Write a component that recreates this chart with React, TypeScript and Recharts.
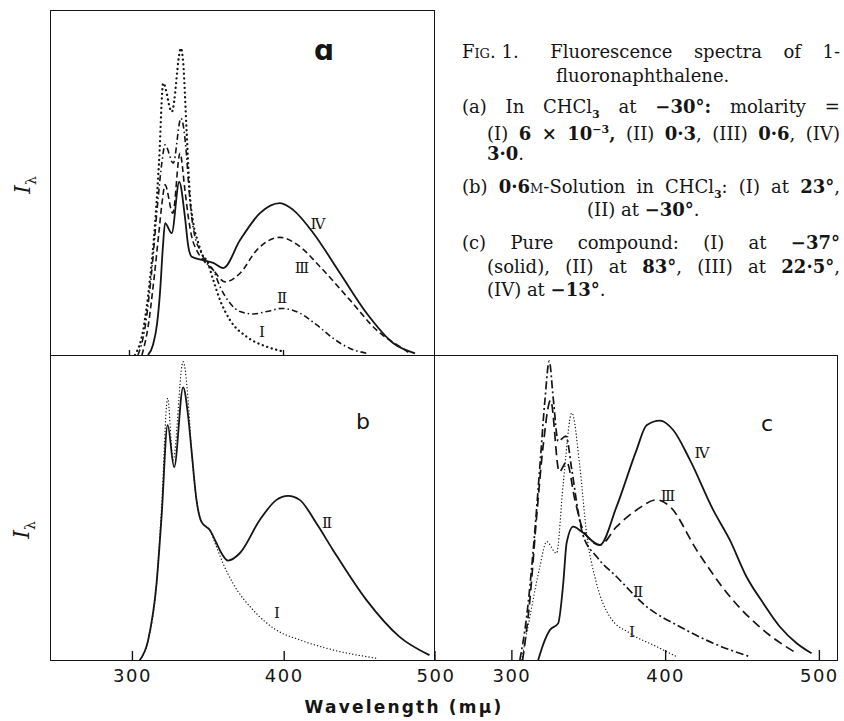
import React from "react";
import { LineChart, Line, XAxis, YAxis } from "recharts";

// (a) in CHCl3 at -30 deg; I..IV = rising molarity. wavelength in m-mu, intensity as % of frame height
const aWaveI = [303.6, 308.8, 313.3, 316.6, 319.2, 321.9, 327.5, 333.4, 334.9, 337.1, 339.3, 341.4, 344.7, 347.9, 350.1, 354.4, 358.8, 365.3, 376.1, 389.1, 399.9];
const aIntI = [0, 7, 22, 38, 56, 78.8, 70.5, 88.9, 84.6, 64.7, 45.9, 38.3, 32.5, 28.5, 27.5, 21.7, 15.9, 10.1, 5.3, 2.4, 1];
const aWaveII = [305.5, 310.1, 314.6, 318.5, 321.1, 323.1, 328.4, 333.4, 337.1, 338.2, 340.4, 342.5, 345.8, 350.1, 354.4, 358.8, 365.3, 371.8, 380.4, 389.1, 398.8, 410.7, 421.6, 432.3, 443.2, 454];
const aIntII = [0, 8, 25, 45, 56, 60.9, 55.6, 68.6, 57.5, 50.7, 40, 34.3, 30.4, 26.7, 24.6, 19.8, 15, 12.6, 11.9, 12.6, 13.5, 12.1, 8.7, 4.8, 1.9, 0.5];
const aWaveIII = [308.1, 312, 315.9, 319.2, 321.1, 323.1, 328.1, 332.8, 336, 338.2, 340.4, 343.6, 347.9, 354.4, 362, 371.8, 382.6, 397.7, 410.7, 423.7, 443.2, 460.5, 475.6, 482.1];
const aIntIII = [0, 8, 22, 36, 44, 49.3, 41.1, 58.5, 47.8, 40, 34.3, 30.4, 27.5, 24.6, 21.2, 23.7, 30.4, 34.1, 31.4, 25.6, 15.9, 7.2, 2.4, 0.5];
const aWaveIV = [312, 315.3, 317.9, 319.8, 321.8, 323.1, 327.4, 332.3, 336, 338.2, 340.4, 347.9, 354.4, 360.9, 371.8, 384.7, 397.7, 406.4, 419.4, 436.7, 454, 471.3, 485.4];
const aIntIV = [0, 3, 9, 18, 32, 38.2, 35.3, 50.2, 40, 31.4, 28.5, 27.5, 26.7, 25.2, 33.3, 41.1, 44, 42, 35.3, 23.7, 12.1, 3.4, 0.5];

// (b) 0.6M in CHCl3: I at 23 deg, II at -30 deg
const bWaveI = [304.9, 310.4, 315.9, 319.2, 323.2, 326.8, 333.4, 336.7, 338.9, 342.2, 345.5, 351, 355.4, 359.7, 366.3, 379.5, 394.9, 410.2, 432.1, 460.7];
const bIntI = [0, 6.6, 25.1, 50, 85.8, 65.6, 97.8, 85.2, 68.9, 52.5, 45.3, 42.6, 37.1, 31.7, 25.1, 16.4, 9.8, 6.6, 3.3, 0.6];
const bWaveII = [304.9, 310.4, 315.9, 319.2, 323.2, 327.5, 333.4, 336.7, 338.9, 342.2, 345.5, 351, 355.4, 358.7, 363, 370.7, 383.9, 394.9, 402.5, 410.2, 421.2, 432.1, 454.1, 476, 495.7];
const bIntII = [0, 6.6, 25.1, 47, 77, 63.2, 89.4, 80, 68.9, 52.5, 45.3, 42.6, 38.3, 35, 32.6, 35, 45.9, 52.5, 53.8, 52.5, 44.8, 36.1, 19.7, 7.6, 1.6];

// (c) pure compound: I solid -37, II 83, III 22.5, IV -13 deg
const cWaveI = [306.3, 311.7, 318.2, 322.6, 329, 333.4, 339, 344.2, 348.6, 355.1, 363.7, 376.7, 394.1, 407.1];
const cIntI = [0, 14.2, 30.6, 38.8, 35, 57.9, 81, 63.4, 41.5, 25.1, 14.2, 8.8, 4.4, 1.1];
const cWaveII = [305.2, 309.6, 313.9, 318.2, 321.5, 324.3, 326.9, 330.1, 335.1, 339, 342.9, 346.2, 355.1, 368.1, 387.6, 409.3, 430.9, 454.8];
const cIntII = [0, 14.2, 36.1, 63.4, 85.2, 98, 85.8, 71.8, 73.4, 62.3, 49.2, 41, 33.9, 27.3, 17.5, 10.9, 5.5, 1.1];
const cWaveIII = [307, 311.7, 316.1, 320.4, 325.2, 330.8, 335.6, 341, 346.4, 357.2, 368.1, 381.1, 394.1, 402.8, 420.1, 441.8, 463.5, 485.2];
const cIntIII = [0, 19.7, 47, 70.5, 85.2, 61.7, 65, 52.5, 42.6, 37.7, 43.7, 49.2, 52.5, 50.3, 36.1, 20.8, 9.8, 2.2];
const cWaveIV = [317.1, 321.5, 324.7, 330.1, 333.4, 335.6, 339.9, 345.3, 357.2, 368.1, 381.1, 387.6, 396.3, 404.9, 415.8, 430.9, 441.8, 452.6, 463.5, 474.3, 485.2, 494.9];
const cIntIV = [0, 6.6, 9.8, 12, 25.1, 38.3, 43.7, 42.1, 37.7, 50.3, 68.9, 77, 78.5, 75.4, 65.6, 49.2, 39.3, 27.3, 18.6, 10.9, 5.5, 2.2];

const ticksA = [300, 400];
const ticksBC = [300, 400, 500];

const INK = "#151515";
const SANS = '"DejaVu Sans", sans-serif';
const SERIF = '"DejaVu Serif", serif';

// line styles
const SOLID = { width: 1.8 };
const DOTS_BIG = { width: 2.3, dash: "0.1 4.6", cap: "round" };
const DOTS_FINE = { width: 1.3, dash: "0.1 3.2", cap: "round" };
const DASH = { width: 1.6, dash: "6 3.5" };
const DASHDOT = { width: 1.6, dash: "6 3 1.5 3" };
const DASH_C = { width: 1.7, dash: "9 5" };
const DASHDOT_C = { width: 1.7, dash: "8 3 2 3" };

type Style = { width: number; dash?: string; cap?: string };
type Series = { wave: number[]; val: number[]; look: Style };

const points = (wave: number[], val: number[]) => wave.map((w, i) => ({ w, v: val[i] }));

function Panel({ x, y, w, h, domain, ticks, tickLen, labels, series }: {
  x: number; y: number; w: number; h: number; domain: [number, number];
  ticks: number[]; tickLen: number; labels: boolean; series: Series[];
}) {
  const pad = 25;
  const axisH = labels ? 34 : 0;
  const markTop = (tickLen / h) * 100;
  return (
    <div style={{ position: "absolute", left: x - pad, top: y }}>
      <LineChart width={w + 2 * pad} height={h + axisH} margin={{ top: 0, right: pad, bottom: 0, left: pad }}>
        {/* labels under the frame */}
        <XAxis
          type="number"
          dataKey="w"
          domain={domain}
          allowDataOverflow
          ticks={ticks}
          interval={0}
          hide={!labels}
          axisLine={false}
          tickLine={false}
          tickSize={0}
          tickMargin={9}
          tick={{ fill: INK, fontSize: 18, fontFamily: SANS, letterSpacing: 1.5 }}
          height={axisH || 1}
        />
        {/* inward tick marks */}
        <XAxis
          xAxisId="marks"
          type="number"
          dataKey="w"
          domain={domain}
          allowDataOverflow
          ticks={ticks}
          interval={0}
          mirror
          axisLine={false}
          tick={false}
          tickSize={tickLen}
          tickLine={{ stroke: INK, strokeWidth: 1.4 }}
          height={tickLen + 2}
        />
        <YAxis type="number" domain={[0, 100]} allowDataOverflow hide />
        {ticks.map((t) => (
          <Line
            key={"t" + t}
            data={[{ w: t, v: 0 }, { w: t, v: markTop }]}
            dataKey="v"
            type="linear"
            dot={false}
            activeDot={false}
            stroke={INK}
            strokeWidth={1.4}
            isAnimationActive={false}
          />
        ))}
        {series.map((s, i) => (
          <Line
            key={i}
            data={points(s.wave, s.val)}
            dataKey="v"
            type="monotone"
            dot={false}
            activeDot={false}
            stroke={INK}
            strokeWidth={s.look.width}
            strokeDasharray={s.look.dash}
            strokeLinecap={(s.look.cap as any) || "butt"}
            isAnimationActive={false}
          />
        ))}
      </LineChart>
    </div>
  );
}

function Note({ x, y, size = 15, font = SERIF, children, style }: any) {
  return (
    <div style={{ position: "absolute", left: x, top: y, transform: "translate(-50%,-50%)", whiteSpace: "nowrap", lineHeight: 1, fontFamily: font, fontSize: size, color: INK, ...style }}>
      {children}
    </div>
  );
}

function YLabel({ x, y }: { x: number; y: number }) {
  return (
    <div style={{ position: "absolute", left: x, top: y, transform: "translate(-50%,-50%) rotate(-90deg)", fontFamily: SERIF, fontSize: 22, fontStyle: "italic", color: INK, lineHeight: 1, whiteSpace: "nowrap" }}>
      I<sub style={{ fontSize: 14, fontStyle: "normal" }}>λ</sub>
    </div>
  );
}

function Spread({ y, left, width, words }: { y: number; left: number; width: number; words: React.ReactNode[] }) {
  return (
    <div style={{ position: "absolute", top: y - 12, left, width, height: 24, display: "flex", justifyContent: "space-between", alignItems: "baseline", whiteSpace: "nowrap", fontFamily: SERIF, fontSize: 18, lineHeight: "24px", color: INK }}>
      {words.map((wd, i) => <span key={i}>{wd}</span>)}
    </div>
  );
}

function Plain({ y, left, children }: { y: number; left: number; children: React.ReactNode }) {
  return (
    <div style={{ position: "absolute", top: y - 12, left, height: 24, whiteSpace: "nowrap", fontFamily: SERIF, fontSize: 18, lineHeight: "24px", color: INK }}>
      {children}
    </div>
  );
}

const sc = { fontVariant: "small-caps" as const };
const sub3 = <sub style={{ fontSize: 11, fontWeight: 700 }}>3</sub>;

export default function App() {
  const frame = { position: "absolute" as const, boxSizing: "border-box" as const, border: `1.5px solid ${INK}` };
  return (
    <div style={{ position: "relative", width: 844, height: 721, overflow: "hidden", background: "#fff" }}>
      <style>{`body{margin:0}`}</style>

      <div style={{ ...frame, left: 50, top: 10, width: 385, height: 346 }} />
      <div style={{ ...frame, left: 50, top: 354.5, width: 788, height: 306.5 }} />
      <div style={{ position: "absolute", left: 433.5, top: 354.5, width: 1.5, height: 306, background: INK }} />

      <Panel x={50} y={10} w={384} h={345} domain={[248.4, 497.7]} ticks={ticksA} tickLen={5} labels={false}
        series={[
          { wave: aWaveI, val: aIntI, look: DOTS_BIG },
          { wave: aWaveII, val: aIntII, look: DASHDOT },
          { wave: aWaveIII, val: aIntIII, look: DASH },
          { wave: aWaveIV, val: aIntIV, look: SOLID },
        ]} />
      <Panel x={50} y={355} w={386} h={305} domain={[245.7, 500]} ticks={ticksBC} tickLen={9} labels
        series={[
          { wave: bWaveI, val: bIntI, look: DOTS_FINE },
          { wave: bWaveII, val: bIntII, look: SOLID },
        ]} />
      <Panel x={435} y={355} w={403} h={305} domain={[250, 512.1]} ticks={ticksBC} tickLen={10} labels
        series={[
          { wave: cWaveI, val: cIntI, look: DOTS_FINE },
          { wave: cWaveII, val: cIntII, look: DASHDOT_C },
          { wave: cWaveIII, val: cIntIII, look: DASH_C },
          { wave: cWaveIV, val: cIntIV, look: SOLID },
        ]} />

      <YLabel x={25} y={185} />
      <YLabel x={24} y={530} />

      <Note x={324} y={51} size={28} font={SANS} style={{ fontWeight: 700 }}>ɑ</Note>
      <Note x={363} y={422} size={22} font={SANS}>b</Note>
      <Note x={767} y={424} size={22} font={SANS}>c</Note>

      <Note x={318} y={224}>Ⅳ</Note>
      <Note x={302} y={268}>Ⅲ</Note>
      <Note x={282} y={298}>Ⅱ</Note>
      <Note x={262} y={332}>Ⅰ</Note>
      <Note x={327} y={523}>Ⅱ</Note>
      <Note x={277} y={613}>Ⅰ</Note>
      <Note x={702} y={453}>Ⅳ</Note>
      <Note x={668} y={496}>Ⅲ</Note>
      <Note x={638} y={592}>Ⅱ</Note>
      <Note x={632} y={632}>Ⅰ</Note>

      <Note x={404} y={707} size={17} font={SANS} style={{ letterSpacing: 2.2, fontWeight: 700 }}>Wavelength (mμ)</Note>

      <Spread y={52} left={462} width={378} words={[<span style={{ marginRight: 10 }}><span style={sc}>Fig.</span> 1.</span>, "Fluorescence", "spectra", "of", "1-"]} />
      <Plain y={76} left={556}>fluoronaphthalene.</Plain>
      <Spread y={107} left={462} width={378} words={["(a)", "In", <>CHCl{sub3}</>, "at", <b>−30°:</b>, "molarity", "="]} />
      <Spread y={130} left={487} width={353} words={["(I)", <b>6</b>, <b>×</b>, <b>10<sup style={{ fontSize: 11 }}>−3</sup>,</b>, "(II)", <><b>0·3</b>,</>, "(III)", <><b>0·6</b>,</>, "(IV)"]} />
      <Plain y={154} left={487}><b>3·0</b>.</Plain>
      <Spread y={187} left={462} width={378} words={["(b)", <><b>0·6</b><span style={sc}>m</span>-Solution</>, "in", <>CHCl{sub3}:</>, "(I)", "at", <><b>23°</b>,</>]} />
      <Plain y={210} left={587}>(II) at <b>−30°</b>.</Plain>
      <Spread y={243} left={462} width={378} words={["(c)", "Pure", "compound:", "(I)", "at", <b>−37°</b>]} />
      <Spread y={267} left={487} width={353} words={["(solid),", "(II)", "at", <><b>83°</b>,</>, "(III)", "at", <><b>22·5°</b>,</>]} />
      <Plain y={290} left={487}>(IV) at <b>−13°</b>.</Plain>
    </div>
  );
}
